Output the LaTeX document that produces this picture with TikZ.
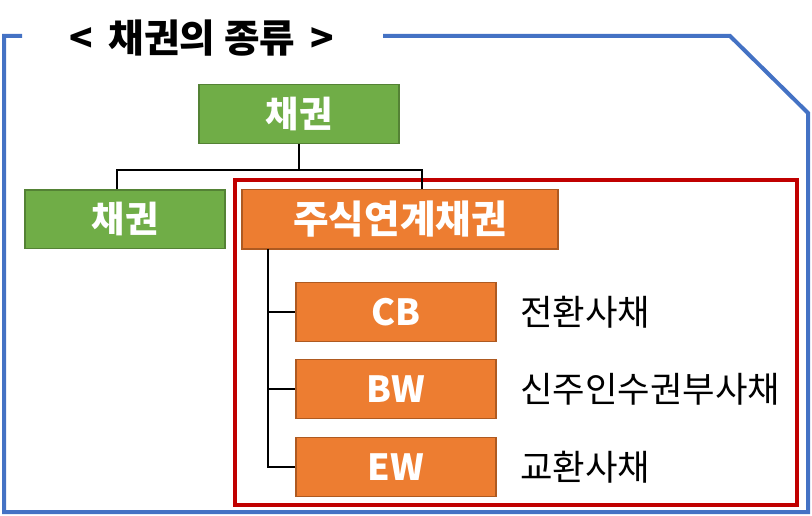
\documentclass[tikz,border=0pt]{standalone}
\usepackage{fontspec}
\setmainfont{Noto Sans CJK KR}
\usepackage{tikz}
\usetikzlibrary{calc}

\definecolor{frameblue}{HTML}{4472C4}
\definecolor{framered}{HTML}{C00000}
\definecolor{leafgreen}{HTML}{70AD47}
\definecolor{leafgreenline}{HTML}{548235}
\definecolor{boxorange}{HTML}{ED7D31}
\definecolor{boxorangeline}{HTML}{AE5A21}

\begin{document}
\begin{tikzpicture}[x=0.75pt,y=-0.75pt,
	greenbox/.style={draw=leafgreenline,fill=leafgreen,line width=1pt,text=white,
		font=\fontsize{27}{31}\selectfont\bfseries,minimum height=44pt,inner sep=0pt},
	orangebox/.style={draw=boxorangeline,fill=boxorange,line width=1pt,text=white,
		font=\fontsize{27}{31}\selectfont\bfseries,minimum height=44.5pt,inner sep=0pt},
	kindlabel/.style={anchor=west,font=\fontsize{26.5}{30}\selectfont,inner sep=0pt},
	link/.style={line width=1.5pt}]
	\useasboundingbox (0,0) rectangle (812,516);

	%outer frame
	\draw[frameblue,line width=3pt] (22,36)--(4,36)--(4,512)--(808,512)--(808,113)--(730,36)--(383,36);
	\node (title) at (202,38) {\fontsize{29}{33}\selectfont\bfseries <\, 채권의 종류 \,>};

	%red frame
	\draw[framered,line width=3pt] (235,180) rectangle (797,505);

	%boxes
	\node[greenbox,minimum width=150pt] (root) at (299,114) {채권};
	\node[greenbox,minimum width=150pt] (plain) at (125,219.5) {채권};
	\node[orangebox,minimum width=237pt,font=\fontsize{29}{33}\selectfont\bfseries] (equity) at (400,219.5) {주식연계채권};
	\node[orangebox,minimum width=150pt] (cb) at (396,312) {CB};
	\node[orangebox,minimum width=150pt] (bw) at (396,389) {BW};
	\node[orangebox,minimum width=150pt] (ew) at (396,467) {EW};

	%labels
	\node[kindlabel] (cbtext) at (520,312) {전환사채};
	\node[kindlabel] (bwtext) at (520,389) {신주인수권부사채};
	\node[kindlabel] (ewtext) at (520,467) {교환사채};

	%root -- children
	\coordinate (jleft) at (117,170);
	\coordinate (jright) at (422,170);
	\draw[link] (root.south) -- (root.south |- jleft);
	\draw[link] (jleft |- plain.north) -- (jleft) -- (jright) -- (jright |- equity.north);

	%equity -- cb, bw, ew
	\coordinate (trunk) at (268,249);
	\draw[link] (trunk) |- (ew.west);
	\draw[link] (trunk |- cb.west) -- (cb.west);
	\draw[link] (trunk |- bw.west) -- (bw.west);
\end{tikzpicture}
\end{document}
